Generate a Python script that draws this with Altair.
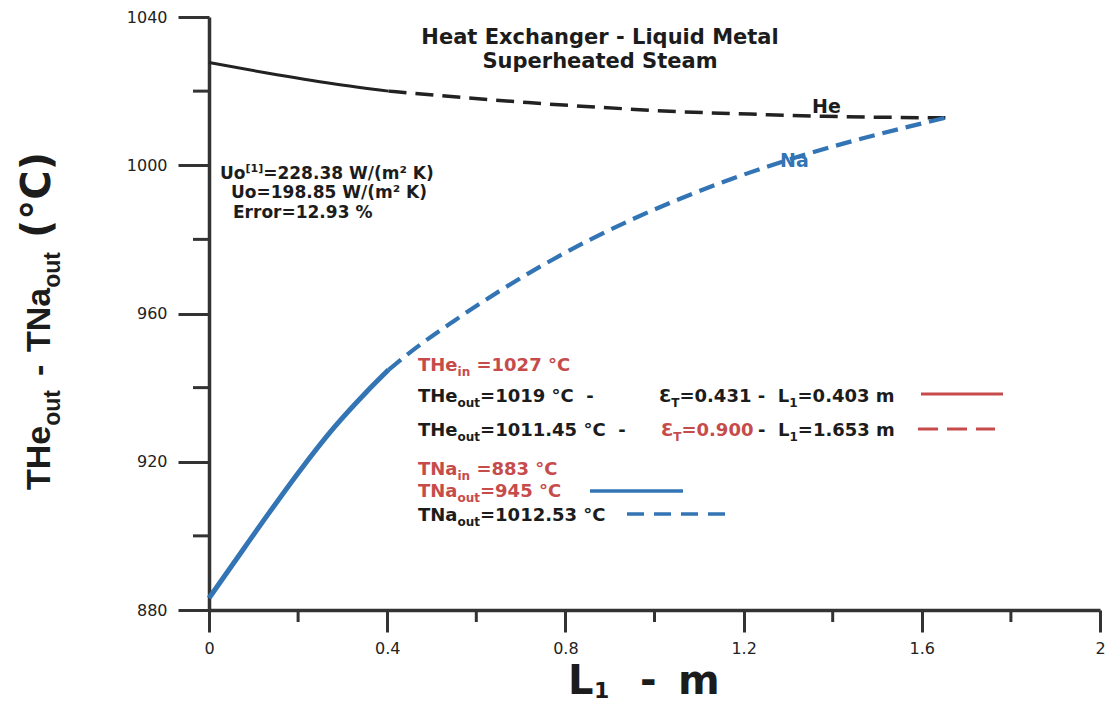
import altair as alt
import pandas as pd

# ---------------- data ----------------
he_solid_L = [0.0, 0.13, 0.279, 0.403]
he_solid_T = [1027.7, 1024.9, 1022.0, 1020.0]
he_dash_L = [0.403, 0.55, 0.716, 0.882, 1.048, 1.214, 1.38, 1.547, 1.653]
he_dash_T = [1020.0, 1018.5, 1016.9, 1015.6, 1014.5, 1013.8, 1013.2, 1012.9, 1012.8]
na_solid_L = [0.0, 0.055, 0.13, 0.204, 0.279, 0.354, 0.403]
na_solid_T = [883.2, 892.6, 905.4, 917.6, 929.0, 938.9, 944.8]
na_dash_L = [0.403, 0.45, 0.55, 0.65, 0.75, 0.85, 0.95, 1.05, 1.15, 1.25, 1.35, 1.45, 1.55, 1.653]
na_dash_T = [944.8, 949.4, 958.0, 965.9, 973.1, 979.6, 985.4, 990.6, 995.3, 999.5, 1003.3, 1006.7, 1009.8, 1012.8]

x_major = [0, 0.4, 0.8, 1.2, 1.6, 2.0]
x_minor = [0.2, 0.6, 1.0, 1.4, 1.8]
y_major = [880, 920, 960, 1000, 1040]
y_minor = [900, 940, 980, 1020]

# ---------------- geometry helpers ----------------
W, H = 891, 593
LEFT, TOP = 209, 17


def X(px):
    return (px - LEFT) / W * 2.0


def Y(py):
    return 880.0 + (TOP + H - py) / H * 160.0


DJ = "DejaVu Sans"
LB = "Liberation Sans"

DJB_W = {' ': 348, '\u00a0': 348, '=': 838, '.': 380, '-': 415, '(': 457, ')': 457, '/': 365,
         '%': 1002, '°': 500, '²': 438, '[': 457, ']': 457, 'Ɛ': 680,
         'A': 774, 'C': 734, 'E': 683, 'H': 837, 'K': 775, 'L': 637, 'M': 995, 'N': 837,
         'S': 720, 'T': 682, 'U': 812, 'W': 1103,
         'a': 675, 'c': 593, 'd': 716, 'e': 678, 'g': 716, 'h': 712, 'i': 343, 'l': 343,
         'm': 1042, 'n': 712, 'o': 687, 'p': 716, 'q': 716, 'r': 493, 's': 595, 't': 478,
         'u': 712, 'x': 645, 'y': 652}
for d in "0123456789":
    DJB_W[d] = 696
LBB_W = {'T': 611, 'H': 722, 'e': 556, 'o': 611, 'u': 611, 't': 333, 'N': 722, 'a': 556,
         '-': 333, ' ': 278, '\u00a0': 278, '(': 333, ')': 333, '°': 400, 'C': 722}


def tw(text, size, font):
    table = DJB_W if font == DJ else LBB_W
    return sum(table.get(c, 650) for c in text) * size / 1000.0


BLACK = "#1c1c1c"
RED = "#c64b4b"
BLUE = "#3274b4"
AX = "#333333"

groups = {}


def put(text, px, py, font, size, color, angle=0, align="left"):
    key = (font, size, color, angle, align)
    groups.setdefault(key, []).append(
        {"txt": text.replace(" ", "\u00a0"), "L": X(px), "T": Y(py)})


def run(px, py, segs, font=DJ):
    x = px
    for text, size, color, dy in segs:
        lead = len(text) - len(text.lstrip(" "))
        if lead:
            x += tw(" " * lead, size, font)
            text = text.lstrip(" ")
        put(text, x, py + dy, font, size, color)
        x += tw(text, size, font)


# title
put("Heat Exchanger - Liquid Metal", 600, 44, DJ, 21, BLACK, align="center")
put("Superheated Steam", 600, 68, DJ, 21, BLACK, align="center")

# Uo annotation
run(220, 179, [("Uo", 17, BLACK, 0), ("[1]", 11, BLACK, -7), ("=228.38 W/(m² K)", 17, BLACK, 0)])
run(231, 198, [("Uo=198.85 W/(m² K)", 17, BLACK, 0)])
run(233, 218, [("Error=12.93 %", 17, BLACK, 0)])

# curve labels
put("He", 812, 113, DJ, 19, BLACK)
put("Na", 780, 167, DJ, 19, BLUE)

# legend block
run(418, 371, [("THe", 18, RED, 0), ("in", 12, RED, 5), (" =1027 °C", 18, RED, 0)])
run(418, 402, [("THe", 18, BLACK, 0), ("out", 12, BLACK, 5), ("=1019 °C  -", 18, BLACK, 0)])
run(659, 402, [("Ɛ", 18, BLACK, 0), ("T", 12, BLACK, 5), ("=0.431 -  L", 18, BLACK, 0),
               ("1", 12, BLACK, 5), ("=0.403 m", 18, BLACK, 0)])
run(418, 436, [("THe", 18, BLACK, 0), ("out", 12, BLACK, 5), ("=1011.45 °C  -", 18, BLACK, 0)])
run(661, 436, [("Ɛ", 18, RED, 0), ("T", 12, RED, 5), ("=0.900", 18, RED, 0)])
run(758, 436, [("-  L", 18, BLACK, 0), ("1", 12, BLACK, 5), ("=1.653 m", 18, BLACK, 0)])
run(418, 475, [("TNa", 18, RED, 0), ("in", 12, RED, 5), (" =883 °C", 18, RED, 0)])
run(418, 497, [("TNa", 18, RED, 0), ("out", 12, RED, 5), ("=945 °C", 18, RED, 0)])
run(418, 521, [("TNa", 18, BLACK, 0), ("out", 12, BLACK, 5), ("=1012.53 °C", 18, BLACK, 0)])

# y axis title (rotated)
put("THe", 50, 490, LB, 34, BLACK, angle=270)
put("out", 60, 490 - tw("THe", 34, LB), LB, 23, BLACK, angle=270)
put("-", 50, 376, LB, 34, BLACK, angle=270)
put("TNa", 50, 352, LB, 34, BLACK, angle=270)
put("out", 60, 352 - tw("TNa", 34, LB), LB, 23, BLACK, angle=270)
put("(°C)", 50, 238, DJ, 40, BLACK, angle=270)

# x axis title
put("L", 568, 694, DJ, 40, BLACK)
put("1", 594, 698, DJ, 22, BLACK)
put("-", 640, 694, DJ, 40, BLACK)
put("m", 678, 694, DJ, 40, BLACK)

# ---------------- scales / axes ----------------
xs = alt.Scale(domain=[0, 2], nice=False, zero=False)
ys = alt.Scale(domain=[880, 1040], nice=False, zero=False)
xax = alt.Axis(values=x_major, format="~g", title=None, grid=False, tickSize=22, tickWidth=3,
               tickColor=AX, domainColor=AX, domainWidth=3.5, labelFont=DJ, labelFontSize=16,
               labelColor="#222222", labelPadding=8, labelFlush=False, labelOverlap=False)
yax = alt.Axis(values=y_major, format="d", title=None, grid=False, tickSize=31, tickWidth=3,
               tickColor=AX, domainColor=AX, domainWidth=3.5, labelFont=DJ, labelFontSize=16,
               labelColor="#222222", labelPadding=11, labelFlush=False, labelOverlap=False)


def XE():
    return alt.X("L:Q", scale=xs, axis=xax)


def YE():
    return alt.Y("T:Q", scale=ys, axis=yax)


def line_df(Ls, Ts):
    return pd.DataFrame({"L": Ls, "T": Ts})


layers = []
layers.append(alt.Chart(pd.DataFrame({"T": y_minor})).mark_rule(color=AX, strokeWidth=3).encode(
    y=YE(), x=alt.value(-16), x2=alt.value(0)))
layers.append(alt.Chart(pd.DataFrame({"L": x_minor})).mark_rule(color=AX, strokeWidth=3).encode(
    x=XE(), y=alt.value(H), y2=alt.value(H + 12)))

layers.append(alt.Chart(line_df(he_solid_L, he_solid_T)).mark_line(
    color="#222222", strokeWidth=3, interpolate="monotone").encode(x=XE(), y=YE()))
layers.append(alt.Chart(line_df(he_dash_L, he_dash_T)).mark_line(
    color="#222222", strokeWidth=3.5, strokeDash=[18, 9], interpolate="monotone").encode(x=XE(), y=YE()))
layers.append(alt.Chart(line_df(na_solid_L, na_solid_T)).mark_line(
    color=BLUE, strokeWidth=5, interpolate="monotone").encode(x=XE(), y=YE()))
layers.append(alt.Chart(line_df(na_dash_L, na_dash_T)).mark_line(
    color=BLUE, strokeWidth=4.2, strokeDash=[16, 8], interpolate="monotone").encode(x=XE(), y=YE()))

# legend key lines
keys = [
    (921, 1003, 394, RED, 3, None),
    (918, 995, 429, RED, 3, [20, 9]),
    (590, 683, 491, BLUE, 3.5, None),
    (627, 730, 514, BLUE, 3.5, [17, 10]),
]
for x1, x2, yy, col, sw, dash in keys:
    df = pd.DataFrame({"L": [X(x1)], "L2": [X(x2)], "T": [Y(yy)]})
    if dash:
        mk = alt.Chart(df).mark_rule(color=col, strokeWidth=sw, strokeDash=dash)
    else:
        mk = alt.Chart(df).mark_rule(color=col, strokeWidth=sw)
    layers.append(mk.encode(x=XE(), x2="L2:Q", y=YE()))

for (font, size, color, angle, align), rows in groups.items():
    layers.append(alt.Chart(pd.DataFrame(rows)).mark_text(
        font=font, fontSize=size, fontWeight="bold", color=color, angle=angle,
        align=align, baseline="alphabetic").encode(x=XE(), y=YE(), text="txt:N"))

chart = alt.layer(*layers).properties(
    width=W, height=H,
    autosize=alt.AutoSizeParams(type="none"),
    padding={"left": LEFT, "top": TOP, "right": 7, "bottom": 94},
    background="white",
).configure_view(strokeWidth=0)

chart.save("out.html", embed_options={"renderer": "svg", "actions": False})
